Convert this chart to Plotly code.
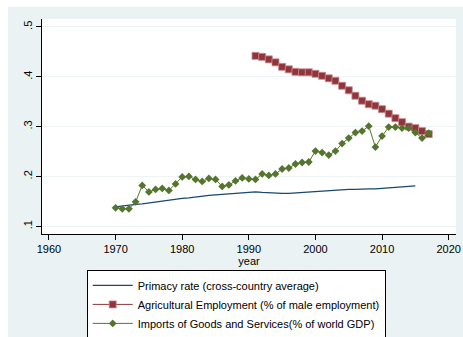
import plotly.graph_objects as go

# Primacy rate (cross-country average), 1970-2015
primacy_years = list(range(1970, 2016))
primacy_rate = [0.139, 0.141, 0.142, 0.144, 0.145, 0.147, 0.149, 0.150, 0.152, 0.154,
                0.156, 0.157, 0.159, 0.160, 0.162, 0.163, 0.164, 0.166, 0.167, 0.168,
                0.169, 0.169, 0.168, 0.167, 0.166, 0.166, 0.166, 0.167, 0.168, 0.169,
                0.170, 0.171, 0.172, 0.173, 0.173, 0.174, 0.174, 0.175, 0.175, 0.175,
                0.176, 0.177, 0.178, 0.179, 0.180, 0.181]

# Agricultural employment (% of male employment), 1991-2017
agri_years = list(range(1991, 2018))
agri_emp = [0.442, 0.440, 0.435, 0.429, 0.420, 0.415, 0.410, 0.409, 0.409, 0.406,
            0.402, 0.397, 0.392, 0.382, 0.373, 0.362, 0.352, 0.345, 0.342, 0.335,
            0.326, 0.317, 0.309, 0.300, 0.297, 0.291, 0.285]

# Imports of goods and services (% of world GDP), 1970-2017
imports_years = list(range(1970, 2018))
imports_gdp = [0.137, 0.135, 0.135, 0.149, 0.182, 0.169, 0.174, 0.176, 0.172, 0.185,
               0.199, 0.200, 0.194, 0.190, 0.196, 0.194, 0.180, 0.183, 0.191, 0.197,
               0.195, 0.194, 0.205, 0.202, 0.205, 0.215, 0.217, 0.225, 0.228, 0.229,
               0.251, 0.248, 0.243, 0.251, 0.266, 0.277, 0.288, 0.291, 0.301, 0.259,
               0.281, 0.299, 0.299, 0.297, 0.297, 0.288, 0.277, 0.287]

x_ticks = [1960, 1970, 1980, 1990, 2000, 2010, 2020]
y_ticks = [0.1, 0.2, 0.3, 0.4, 0.5]
y_tick_text = [".1", ".2", ".3", ".4", ".5"]

NAVY = "#1a476f"
MAROON = "#90353b"
GREEN = "#55752f"
BG = "#eaf2f3"
FONT = "Liberation Sans, Arial, sans-serif"

fig = go.Figure()
fig.add_trace(go.Scatter(
    x=primacy_years, y=primacy_rate, mode="lines",
    name="Primacy rate (cross-country average)",
    line=dict(color=NAVY, width=1.2),
))
fig.add_trace(go.Scatter(
    x=agri_years, y=agri_emp, mode="lines+markers",
    name="Agricultural Employment (% of male employment)",
    line=dict(color=MAROON, width=1),
    marker=dict(symbol="square", size=7, color=MAROON,
                line=dict(color="#c98a8e", width=0.8)),
))
fig.add_trace(go.Scatter(
    x=imports_years, y=imports_gdp, mode="lines+markers",
    name="Imports of Goods and Services(% of world GDP)",
    line=dict(color=GREEN, width=1),
    marker=dict(symbol="diamond", size=6, color=GREEN),
))

# thin white edge along the top and left of the graph region
fig.add_shape(type="rect", xref="paper", yref="paper",
              x0=-0.2, x1=1.1, y0=1.0558, y1=1.2,
              fillcolor="white", line=dict(width=0), layer="above")
fig.add_shape(type="rect", xref="paper", yref="paper",
              x0=-0.2, x1=-0.0822, y0=-0.6, y1=1.2,
              fillcolor="white", line=dict(width=0), layer="above")

fig.update_layout(
    width=463, height=337,
    margin=dict(l=42, r=7.3, t=19, b=103, autoexpand=False),
    paper_bgcolor=BG,
    plot_bgcolor="white",
    font=dict(family=FONT, size=11, color="#000000"),
    showlegend=True,
    legend=dict(
        x=0.108, y=-0.167, xanchor="left", yanchor="top",
        bgcolor="white", bordercolor="#000000", borderwidth=1,
        font=dict(family=FONT, size=11, color="#000000"),
        tracegroupgap=0, itemwidth=40,
    ),
    xaxis=dict(
        range=[1958.95, 2021.1], tickvals=x_ticks,
        showgrid=False, zeroline=False,
        showline=True, linecolor="#000000", linewidth=1,
        ticks="outside", ticklen=5, tickcolor="#000000",
        title=dict(text="year", standoff=2, font=dict(family=FONT, size=11)),
        tickfont=dict(family=FONT, size=11),
    ),
    yaxis=dict(
        range=[0.0845, 0.516], tickvals=y_ticks, ticktext=y_tick_text,
        tickangle=-90,
        showgrid=True, gridcolor="#eef3f4", gridwidth=1, zeroline=False,
        showline=True, linecolor="#000000", linewidth=1,
        ticks="outside", ticklen=5, tickcolor="#000000",
        tickfont=dict(family=FONT, size=11),
    ),
)

fig.write_html("out.html")
